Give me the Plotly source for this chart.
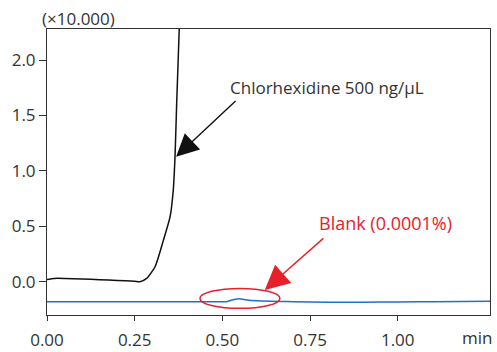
import plotly.graph_objects as go

# Chlorhexidine 500 ng/µL trace (x: min, y: intensity ×10,000)
chlor_x = [0.0, 0.02, 0.05, 0.10, 0.15, 0.20, 0.25, 0.265, 0.284, 0.308, 0.332, 0.351, 0.360, 0.365, 0.370, 0.377, 0.385]
chlor_y = [0.02, 0.03, 0.03, 0.025, 0.018, 0.012, 0.004, 0.0, 0.03, 0.135, 0.376, 0.587, 0.828, 1.128, 1.64, 2.28, 3.2]

# Blank (0.0001%) trace
blank_x = [0.0, 0.25, 0.50, 0.515, 0.53, 0.548, 0.565, 0.60, 0.70, 0.80, 0.90, 1.00, 1.10, 1.263]
blank_y = [-0.18, -0.18, -0.18, -0.178, -0.163, -0.153, -0.162, -0.172, -0.18, -0.185, -0.185, -0.182, -0.18, -0.175]

x_ticks = [0.0, 0.25, 0.5, 0.75, 1.0]
x_tick_labels = ["0.00", "0.25", "0.50", "0.75", "1.00"]
y_ticks = [0.0, 0.5, 1.0, 1.5, 2.0]
y_tick_labels = ["0.0", "0.5", "1.0", "1.5", "2.0"]

FONT = "Open Sans"
TXT = "#333333"
RED = "#e8202a"
BLUE = "#1b74c5"
FS = 17

fig = go.Figure()
fig.add_trace(go.Scatter(x=blank_x, y=blank_y, mode="lines",
                         line=dict(color=BLUE, width=1.5, shape="spline", smoothing=0.8),
                         showlegend=False, hoverinfo="skip"))
fig.add_trace(go.Scatter(x=chlor_x, y=chlor_y, mode="lines",
                         line=dict(color="#111111", width=1.5, shape="spline", smoothing=0.6),
                         showlegend=False, hoverinfo="skip"))

fig.add_shape(type="circle", xref="x", yref="y", x0=0.436, x1=0.664, y0=-0.24, y1=-0.06,
              line=dict(color=RED, width=1.5))

fig.add_annotation(x=0.368, y=1.128, ax=61, ay=-57, axref="pixel", ayref="pixel",
                   text="", showarrow=True, arrowhead=2, arrowsize=3.2, arrowwidth=1.4,
                   arrowcolor="#111111")
fig.add_annotation(x=0.797, y=1.748, text="Chlorhexidine 500 ng/μL", showarrow=False,
                   font=dict(family=FONT, size=FS, color=TXT))

fig.add_annotation(x=0.621, y=-0.075, ax=60, ay=-53, text="", showarrow=True,
                   arrowhead=2, arrowsize=3.5, arrowwidth=1.4, arrowcolor=RED)
fig.add_annotation(x=0.965, y=0.53, text="Blank (0.0001%)", showarrow=False,
                   font=dict(family=FONT, size=18, color=RED))

fig.add_annotation(xref="paper", yref="paper", x=0.0707, y=1.035, yanchor="middle", xanchor="center",
                   text="(×10.000)", showarrow=False, font=dict(family=FONT, size=FS, color=TXT))
fig.add_annotation(xref="paper", yref="paper", x=0.970, y=-0.080, yanchor="middle", xanchor="center",
                   text="min", showarrow=False, font=dict(family=FONT, size=FS, color=TXT))

axis_common = dict(showgrid=False, zeroline=False, showline=True, linecolor="#333333", linewidth=1,
                   mirror=True, ticks="outside", tickcolor="#333333", automargin=False,
                   tickfont=dict(family=FONT, size=FS, color=TXT))
fig.update_xaxes(range=[0, 1.263], tickvals=x_ticks, ticktext=x_tick_labels, ticklen=5,
                 ticklabelstandoff=5, **axis_common)
fig.update_yaxes(range=[-0.30, 2.28], tickvals=y_ticks, ticktext=y_tick_labels, ticklen=7,
                 ticklabelstandoff=0, **axis_common)

fig.update_layout(width=497, height=352, margin=dict(l=47, r=7, t=29, b=37),
                  plot_bgcolor="white", paper_bgcolor="white",
                  font=dict(family=FONT, color=TXT))

fig.write_html("out.html")
